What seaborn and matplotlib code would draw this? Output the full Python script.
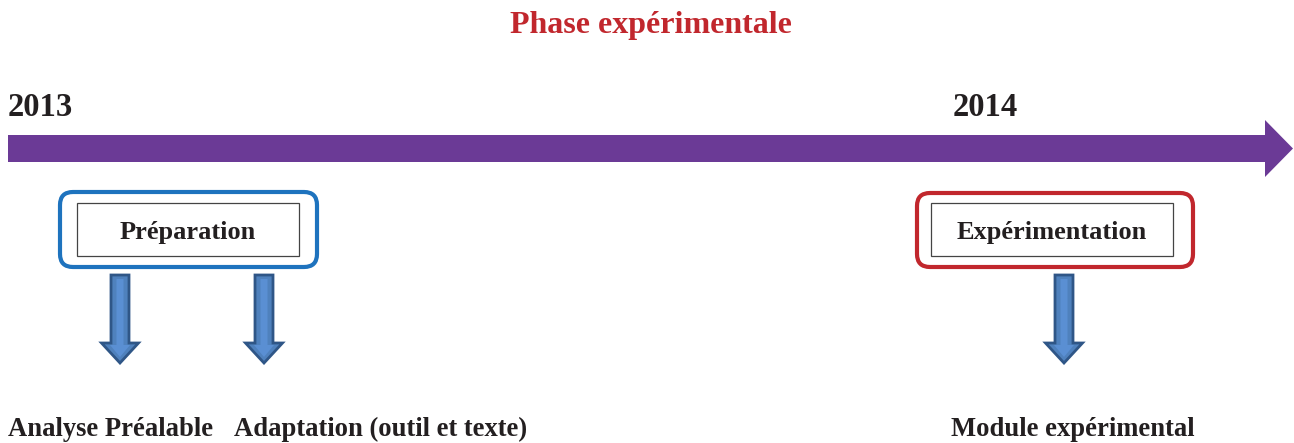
import matplotlib
matplotlib.use("Agg")
import matplotlib.pyplot as plt
import matplotlib.patches as mpatches
import seaborn as sns

# ---------- data ----------
TITLE = "Phase expérimentale"
YEARS = ["2013", "2014"]
PHASES = ["Préparation", "Expérimentation"]
OUTPUTS = ["Analyse Préalable", "Adaptation (outil et texte)", "Module expérimental"]

# ---------- layout (pixel space, y down) ----------
W, H = 1294, 443
YEAR_X = [8, 953]
PHASE_OUTER = [(60, 192, 257, 75), (917, 193, 276, 74)]   # x, y, w, h
PHASE_INNER = [(77, 203, 222, 53), (931, 203, 242, 53)]
PHASE_COLORS = ["#1E73BE", "#C1272D"]
ARROW_X = [120, 264, 1064]
OUTPUT_X = [8, 381, 1073]
OUTPUT_HA = ["left", "center", "center"]

RED = "#C1272D"
PURPLE = "#6B3A96"
INK = "#231F20"
ARROW_FILL = "#4F81BD"
ARROW_EDGE = "#2F5687"

sns.set_theme(style="white")
plt.rcParams["font.family"] = ["Liberation Serif", "DejaVu Serif"]

fig = plt.figure(figsize=(W / 100, H / 100), dpi=100)
ax = fig.add_axes([0, 0, 1, 1])
ax.set_xlim(0, W)
ax.set_ylim(H, 0)
ax.axis("off")

# title
ax.text(651, 33, TITLE, color=RED, fontsize=23, fontweight="bold",
        ha="center", va="baseline")

# timeline
ax.add_patch(mpatches.FancyArrow(8, 148.5, 1285, 0, width=27, head_width=57,
                                 head_length=28, length_includes_head=True,
                                 color=PURPLE, lw=0))
for yr, x in zip(YEARS, YEAR_X):
    ax.text(x, 116, yr, fontsize=23.5, fontweight="bold", color=INK,
            ha="left", va="baseline")

# phase boxes
for label, outer, inner, col in zip(PHASES, PHASE_OUTER, PHASE_INNER, PHASE_COLORS):
    x, y, w, h = outer
    ax.add_patch(mpatches.FancyBboxPatch((x, y), w, h,
                                         boxstyle="round,pad=0,rounding_size=13",
                                         fc="white", ec=col, lw=3))
    x, y, w, h = inner
    ax.add_patch(mpatches.Rectangle((x, y), w, h, fc="white", ec="#444444", lw=0.9))
    ax.text(x + w / 2, 239, label, fontsize=19, fontweight="bold",
            color=INK, ha="center", va="baseline")

# down arrows
for x in ARROW_X:
    ax.add_patch(mpatches.FancyArrow(x, 275, 0, 88, width=18, head_width=37,
                                     head_length=20, length_includes_head=True,
                                     fc=ARROW_FILL, ec=ARROW_EDGE, lw=2))
    ax.add_patch(mpatches.FancyArrow(x, 279, 0, 78, width=7, head_width=20,
                                     head_length=12, length_includes_head=True,
                                     fc="#5A8FD3", lw=0))

# outputs
for label, x, ha in zip(OUTPUTS, OUTPUT_X, OUTPUT_HA):
    ax.text(x, 436, label, fontsize=19.2, fontweight="bold", color=INK,
            ha=ha, va="baseline")

fig.savefig("out.png", dpi=100)
